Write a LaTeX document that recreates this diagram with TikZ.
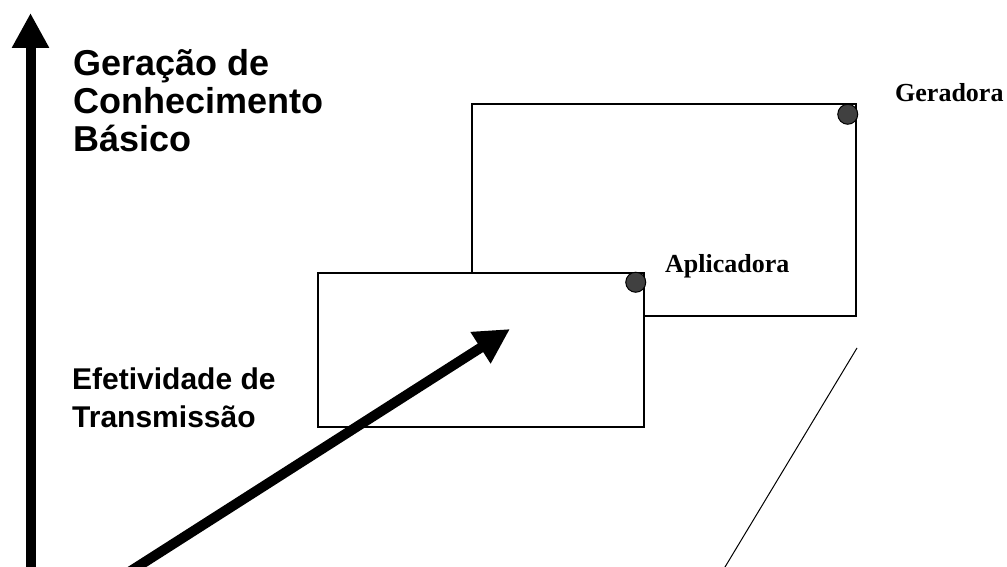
\documentclass[tikz,border=0pt]{standalone}
\usepackage{fontspec}
\setmainfont{Liberation Serif}
\newfontfamily\arialfont{Liberation Sans}
\usetikzlibrary{arrows.meta,positioning,calc}

\begin{document}
\begin{tikzpicture}[x=1pt,y=-1pt,
		box/.style={draw,line width=1.5pt,fill=white,inner sep=0pt},
		dot/.style={circle,draw,line width=1pt,fill=black!75,minimum size=20pt,inner sep=0pt},
		bigarrow/.style={line width=10pt,-{Triangle[length=35pt,width=35pt]}},
		axistext/.style={font=\arialfont\bfseries,align=left,anchor=base west,inner sep=0pt},
		unittext/.style={font=\bfseries\fontsize{26}{30}\selectfont,anchor=base west,inner sep=0pt}]
		\useasboundingbox (0,0) rectangle (1007,567);

		% eixo vertical
		\coordinate (O) at (30.5,567);
		\coordinate (T) at (30.5,13);
		\draw[bigarrow] (O) -- (T);

		% base = linha de base da ultima linha
		\node[axistext,font=\arialfont\bfseries\fontsize{36}{38}\selectfont] (ger) at (73,152) {Geração de\\Conhecimento\\Básico};
		\node[axistext,font=\arialfont\bfseries\fontsize{30}{38}\selectfont] (efe) at (72,427) {Efetividade de\\Transmissão};

		% unidades
		\node[box,minimum width=384pt,minimum height=212pt] (G) at (664,210) {};
		\node[box,minimum width=326pt,minimum height=154pt] (A) at (481,350) {};
		\node[dot] (Gd) at ($(G.north east)+(-9,11)$) {};
		\node[dot] (Ad) at ($(A.north east)+(-9,10)$) {};
		\node[unittext] (Gt) at (895,102) {Geradora};
		\node[unittext] (At) at (665,272) {Aplicadora};

		% seta diagonal
		\coordinate (Q) at (510,329);
		\coordinate (P) at ($(Q)!1.04!(137,567)$);
		\draw[bigarrow] (P) -- (Q);

		% linha fina
		\coordinate (L1) at (857,348);
		\coordinate (L2) at (722,572);
		\draw[line width=1pt] (L1) -- (L2);
	\end{tikzpicture}
\end{document}
